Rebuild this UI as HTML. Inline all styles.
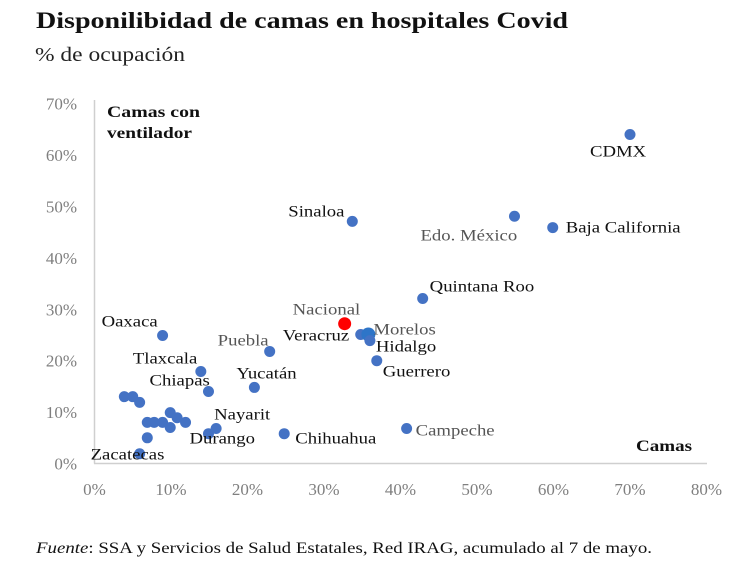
<!DOCTYPE html>
<html><head><meta charset="utf-8"><style>
body{margin:0;background:#fff;width:752px;height:573px;overflow:hidden;font-family:"Liberation Serif",serif}
svg text{font-family:"Liberation Serif",serif}
</style></head><body>
<svg id="chart" width="752" height="573">
<text x="36" y="28" font-size="23" font-weight="bold" fill="#111" textLength="532" lengthAdjust="spacingAndGlyphs">Disponilibidad de camas en hospitales Covid</text>
<text x="35" y="61" font-size="20" fill="#222" textLength="150" lengthAdjust="spacingAndGlyphs">% de ocupación</text>
<line x1="94.5" y1="100" x2="94.5" y2="463.5" stroke="#cfcfcf" stroke-width="1.5"/>
<line x1="94" y1="463.5" x2="707" y2="463.5" stroke="#cfcfcf" stroke-width="1.5"/>
<text x="107" y="117" font-size="16" font-weight="bold" fill="#111" textLength="93" lengthAdjust="spacingAndGlyphs">Camas con</text>
<text x="107" y="138" font-size="16" font-weight="bold" fill="#111" textLength="85" lengthAdjust="spacingAndGlyphs">ventilador</text>
<text x="636" y="451" font-size="16" font-weight="bold" fill="#111" textLength="56" lengthAdjust="spacingAndGlyphs">Camas</text>
<text x="36" y="553" font-size="16" fill="#111" textLength="616" lengthAdjust="spacingAndGlyphs"><tspan font-style="italic">Fuente</tspan>: SSA y Servicios de Salud Estatales, Red IRAG, acumulado al 7 de mayo.</text>
<g id="ticks"></g><g id="pts"></g><g id="lbls"></g>
</svg>
<script>
const xTicks=[0,10,20,30,40,50,60,70,80];
const yTicks=[0,10,20,30,40,50,60,70];
const names=["CDMX","Sinaloa","Edo. México","Baja California","Quintana Roo","Veracruz","Morelos","Hidalgo","Guerrero","Campeche","Chihuahua","Yucatán","Puebla","Oaxaca","Tlaxcala","Chiapas","Nayarit","Durango","Zacatecas","","","","","","","","","","",""];
const xVals=[70,33.7,54.9,59.9,42.9,34.8,35.8,36,36.9,40.8,24.8,20.9,22.9,8.9,13.9,14.9,15.9,14.9,5.9,3.9,5,5.9,6.9,7.8,8.9,9.9,10.8,11.9,9.9,6.9];
const yVals=[64,47.1,48.1,45.9,32.1,25.1,25.1,23.9,20,6.8,5.8,14.8,21.8,24.9,17.9,14,6.8,5.8,1.9,13,13,11.9,8,8,8,9.9,8.9,8,7,5];
const natX=[32.7], natY=[27.2];
// label offsets (style only): dx (left edge), dy, color
const lo={"CDMX":[-40,22,"#111"],"Sinaloa":[-64,-5,"#111"],"Edo. México":[-94,24,"#555"],"Baja California":[13,5,"#111"],"Quintana Roo":[7,-7,"#111"],"Veracruz":[-78,6,"#111"],"Morelos":[5,0,"#555"],"Hidalgo":[6,11,"#111"],"Guerrero":[6,16,"#111"],"Campeche":[9,7,"#555"],"Chihuahua":[11,10,"#111"],"Yucatán":[-18,-9,"#111"],"Puebla":[-52,-6,"#555"],"Oaxaca":[-61,-9,"#111"],"Tlaxcala":[-68,-8,"#111"],"Chiapas":[-59,-6,"#111"],"Nayarit":[-2,-9,"#111"],"Durango":[-19,10,"#111"],"Zacatecas":[-49,6,"#111"]};
const SC=1.17;
const X=v=>94.5+v*7.65, Y=v=>463.5-v*5.14;
const NS="http://www.w3.org/2000/svg";
const tg=document.getElementById('ticks'),pg=document.getElementById('pts'),lg=document.getElementById('lbls');
function mk(tag,attrs,txt){const e=document.createElementNS(NS,tag);for(const k in attrs)e.setAttribute(k,attrs[k]);if(txt!==undefined)e.textContent=txt;return e;}
function widen(t){const L=t.getComputedTextLength();t.setAttribute('textLength',L*SC);t.setAttribute('lengthAdjust','spacingAndGlyphs');}
xTicks.forEach(t=>{const e=mk('text',{x:X(t),y:495,'font-size':17,fill:'#7f7f7f','text-anchor':'middle'},t+'%');

tg.appendChild(e);});
yTicks.forEach(t=>{const e=mk('text',{x:77,y:Y(t)+6,'font-size':17,fill:'#7f7f7f','text-anchor':'end'},t+'%');

tg.appendChild(e);});
xVals.forEach((xv,i)=>{const n=names[i];const big=n==="Morelos";
const c=mk('circle',{cx:X(xv),cy:Y(yVals[i]),r:big?7:5.5,fill:big?'#2e75c8':'#4472c4'});

pg.appendChild(c);
if(n){const o=lo[n]||[8,5,"#111"];const t=mk('text',{x:X(xv)+o[0],y:Y(yVals[i])+o[1],'font-size':16,fill:o[2]},n);

lg.appendChild(t);widen(t);}});
const nc=mk('circle',{cx:X(natX[0]),cy:Y(natY[0]),r:6.5,fill:'#ff0000'});

pg.appendChild(nc);
const nt=mk('text',{x:X(natX[0])-52,y:Y(natY[0])-9,'font-size':16,fill:'#555'},'Nacional');

lg.appendChild(nt);widen(nt);
</script>
</body></html>
